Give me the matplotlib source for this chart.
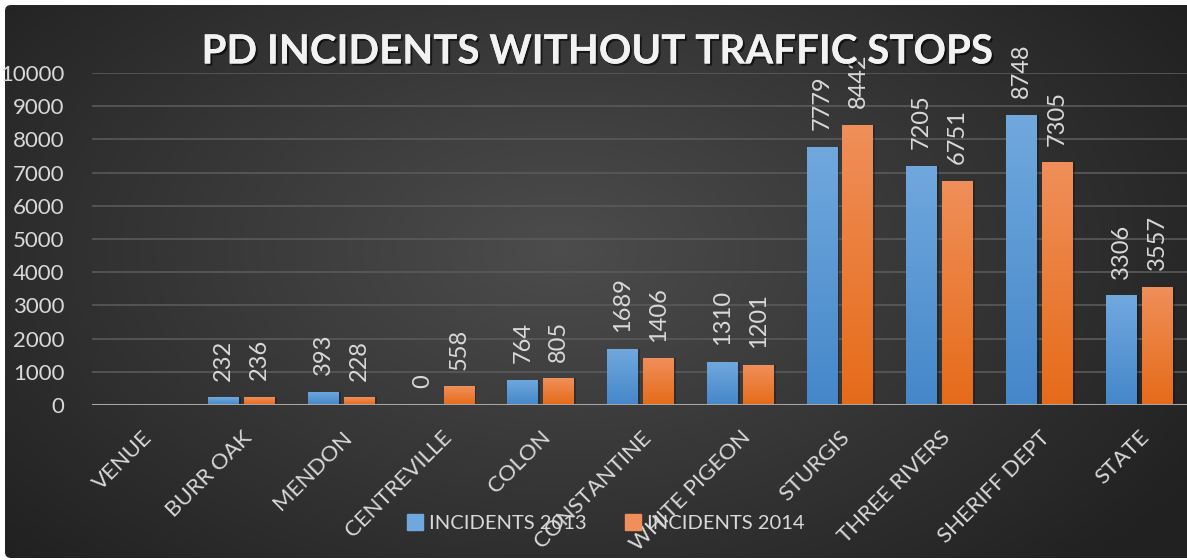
import numpy as np
import matplotlib.pyplot as plt
import matplotlib.patheffects as pe
from matplotlib.patches import FancyBboxPatch
from matplotlib.lines import Line2D

venues = ['VENUE', 'BURR OAK', 'MENDON', 'CENTREVILLE', 'COLON', 'CONSTANTINE',
          'WHITE PIGEON', 'STURGIS', 'THREE RIVERS', 'SHERIFF DEPT', 'STATE']
incidents_2013 = [np.nan, 232, 393, 0, 764, 1689, 1310, 7779, 7205, 8748, 3306]
incidents_2014 = [np.nan, 236, 228, 558, 805, 1406, 1201, 8442, 6751, 7305, 3557]
yticks = [0, 1000, 2000, 3000, 4000, 5000, 6000, 7000, 8000, 9000, 10000]

plt.rcParams['font.family'] = ['Lato', 'DejaVu Sans']
txt = '#d9d9d9'

fig = plt.figure(figsize=(11.87, 5.6), dpi=100)
fig.patch.set_facecolor('white')

# dark radial background of the chart area
bg = fig.add_axes([0, 0, 1, 1], zorder=-2)
bg.set_xlim(0, 1187)
bg.set_ylim(560, 0)
bg.axis('off')
yy, xx = np.mgrid[0:560, 0:1187]
r = np.sqrt(((xx - 560) / 700.0) ** 2 + ((yy - 250) / 420.0) ** 2)
shade = np.clip(0.30 - 0.16 * r, 0.13, 0.30)
card = FancyBboxPatch((5, 5), 1200, 553, boxstyle='round,pad=0,rounding_size=6',
                      transform=bg.transData, facecolor='none', edgecolor='none')
bg.add_patch(card)
im = bg.imshow(np.dstack([shade] * 3), extent=(0, 1187, 560, 0), aspect='auto')
im.set_clip_path(card)

ax = fig.add_axes([92 / 1187, 1 - 405 / 560, 1095 / 1187, 332 / 560])
ax.patch.set_alpha(0)
x = np.arange(len(venues))
w = 0.31
off = 0.18

def grad_bars(xs, vals, top, bottom):
    bars = ax.bar(xs, vals, w, color=top, zorder=3)
    g = np.linspace(0, 1, 64)[:, None, None]
    c = (1 - g) * np.array(top)[None, None, :] + g * np.array(bottom)[None, None, :]
    for b in bars:
        h = b.get_height()
        if not np.isfinite(h) or h <= 0:
            continue
        # soft shadow on the right side of the bar
        ax.bar(b.get_x() + b.get_width() / 2 + 0.02, h, w, color='black', alpha=0.25, zorder=2.5)
        gi = ax.imshow(c, extent=(b.get_x(), b.get_x() + b.get_width(), 0, h),
                       aspect='auto', zorder=3.5, origin='upper')
        gi.set_clip_path(b)
    return bars

blue_top, blue_bot = (0.44, 0.66, 0.87), (0.27, 0.53, 0.79)
orng_top, orng_bot = (0.94, 0.56, 0.35), (0.90, 0.42, 0.10)
b13 = grad_bars(x - off, incidents_2013, blue_top, blue_bot)
b14 = grad_bars(x + off, incidents_2014, orng_top, orng_bot)

for bars in (b13, b14):
    for b in bars:
        h = b.get_height()
        if not np.isfinite(h):
            continue
        ax.annotate(f'{int(h)}', (b.get_x() + b.get_width() / 2, h),
                    xytext=(0, 12), textcoords='offset points', rotation=90,
                    ha='center', va='bottom', color=txt, fontsize=17)

ax.set_xlim(-0.5, 10.48)
ax.set_ylim(0, 10000)
ax.set_yticks(yticks)
ax.set_yticklabels([str(v) for v in yticks], color=txt, fontsize=16)
ax.yaxis.grid(True, color='#5a5a5a', linewidth=1.2, zorder=0)
ax.set_axisbelow(True)
ax.tick_params(axis='both', length=0)
ax.tick_params(axis='y', pad=20)
ax.set_xticks(x)
ax.set_xticklabels(venues, rotation=45, ha='right', va='top', rotation_mode='anchor',
                   color=txt, fontsize=16)
ax.tick_params(axis='x', pad=16)
for s in ax.spines.values():
    s.set_visible(False)
ax.axhline(0, color='#a6a6a6', linewidth=2.2, zorder=4)

fig.text(0.503, 1 - 52 / 560, 'PD INCIDENTS WITHOUT TRAFFIC STOPS', ha='center', va='center',
         color='#f2f2f2', fontsize=29, fontweight='bold',
         path_effects=[pe.withSimplePatchShadow(offset=(1.5, -1.5), shadow_rgbFace='black', alpha=0.6),
                       pe.Normal()])

handles = [Line2D([], [], marker='s', linestyle='', markersize=12, color=blue_top),
           Line2D([], [], marker='s', linestyle='', markersize=12, color=orng_top)]
fig.legend(handles, ['INCIDENTS 2013', 'INCIDENTS 2014'], loc='center',
           bbox_to_anchor=(605 / 1187, 1 - 523 / 560), ncol=2, frameon=False,
           fontsize=14.5, labelcolor=txt, handletextpad=0.2, columnspacing=1.8, handlelength=1.0)

fig.savefig('out.png', dpi=100, facecolor=fig.get_facecolor())
